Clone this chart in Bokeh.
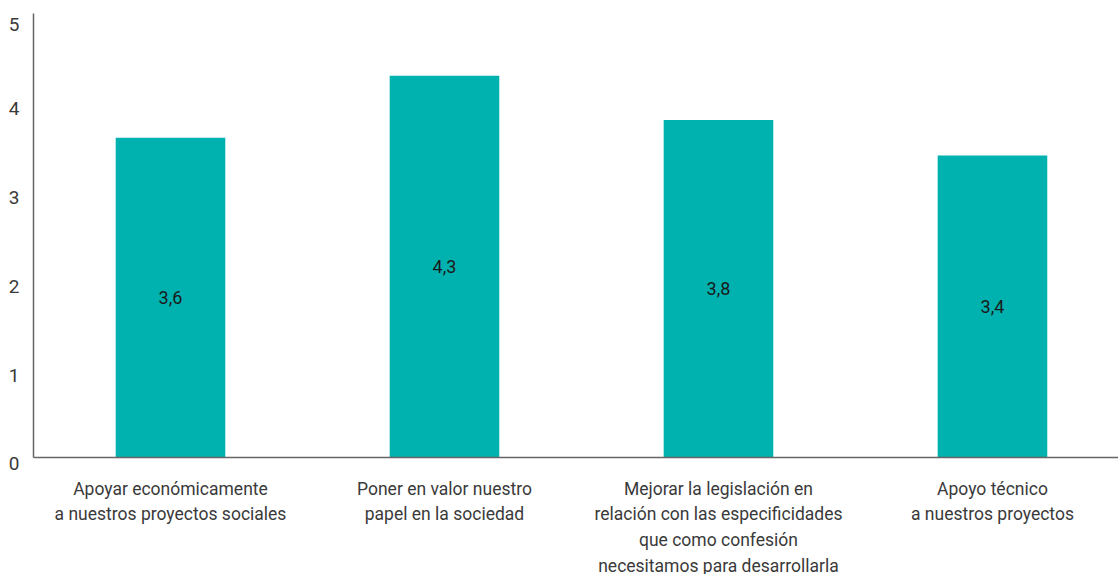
from bokeh.plotting import figure
from bokeh.models import FixedTicker, Range1d, ColumnDataSource
from bokeh.core.properties import value
from bokeh.embed import file_html
from bokeh.resources import INLINE

categories = [
    "Apoyar económicamente\na nuestros proyectos sociales",
    "Poner en valor nuestro\npapel en la sociedad",
    "Mejorar la legislación en\nrelación con las especificidades\nque como confesión\nnecesitamos para desarrollarla",
    "Apoyo técnico\na nuestros proyectos",
]
values = [3.6, 4.3, 3.8, 3.4]
labels = ["3,6", "4,3", "3,8", "3,4"]
y_ticks = [0, 1, 2, 3, 4, 5]

FONT = "Roboto"
BAR = "#00B2AF"

xs = list(range(len(categories)))
src = ColumnDataSource(dict(x=xs, top=values, mid=[v / 2 for v in values], lab=labels))

p = figure(width=1118, height=592, output_backend="svg", toolbar_location=None,
           x_range=Range1d(-0.5, 3.46), y_range=Range1d(0, 5),
           min_border_left=33, min_border_right=0, min_border_top=13, min_border_bottom=135)
p.outline_line_color = None
p.grid.visible = False

p.vbar(x="x", top="top", width=0.4, source=src, color=BAR, line_color=None)
p.text(x="x", y="mid", text="lab", source=src, text_align="center", text_baseline="middle",
       text_font=value(FONT), text_font_size="18px", text_color="#1a1a1a")

p.xaxis.ticker = FixedTicker(ticks=xs)
p.xaxis.major_label_overrides = {i: c for i, c in zip(xs, categories)}
p.xaxis.major_tick_line_color = None
p.xaxis.minor_tick_line_color = None
p.xaxis.axis_line_color = "#666666"
p.xaxis.axis_line_width = 1.5
p.xaxis.major_label_text_font = FONT
p.xaxis.major_label_text_font_size = "17.5px"
p.xaxis.major_label_text_line_height = 1.285
p.xaxis.major_label_text_color = "#3a3a3a"
p.xaxis.major_label_standoff = 15

p.yaxis.ticker = FixedTicker(ticks=y_ticks)
p.yaxis.major_label_overrides = {t: "\n" + str(t) for t in y_ticks}
p.yaxis.major_tick_line_color = None
p.yaxis.minor_tick_line_color = None
p.yaxis.axis_line_color = "#666666"
p.yaxis.axis_line_width = 1.5
p.yaxis.major_label_text_font = FONT
p.yaxis.major_label_text_font_size = "19px"
p.yaxis.major_label_text_line_height = 0.55
p.yaxis.major_label_text_color = "#3a3a3a"
p.yaxis.major_label_standoff = 8

open("out.html", "w").write(file_html(p, INLINE))
